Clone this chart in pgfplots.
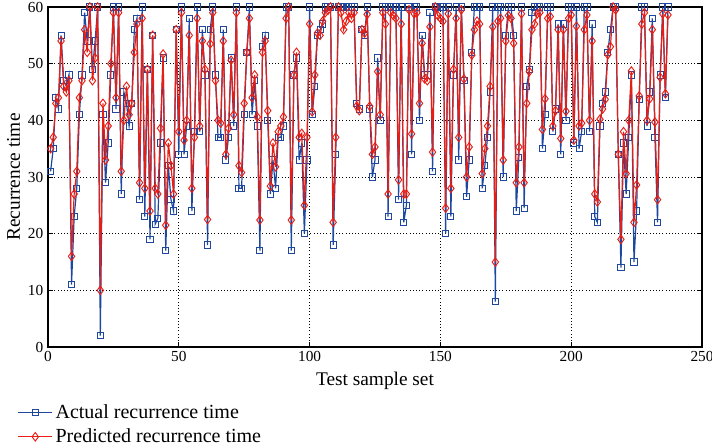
\documentclass[border=0pt]{standalone}
\usepackage{fontspec}
\setmainfont{Liberation Serif}
\usepackage{pgfplots}
\usepackage{pgfplotstable}
\pgfplotsset{compat=1.18}
\definecolor{actblue}{RGB}{30,72,160}
\definecolor{predred}{RGB}{232,30,20}
\pgfplotstableread{
a p
31 35
35 37
44 43
42 44
55 54
47 46
46 45
48 47
11 16
23 27
28 31
41 44
48 47
59 56
54 52
60 60
49 47
54 51
60 60
2 10
41 43
29 33
36 39
48 50
60 59
42 44
60 59
27 31
45 40
43 46
39 41
43 43
56 52
58 57
26 29
60 58
23 28
49 49
19 24
55 55
21.7 28
22.7 27
36 38.6
51 51.7
17 21.5
32 36
26 32
24 27
56 56
34 38
60 59
34 36.5
39 40
58 55
24 28
38 37
60 58
38 39
56 54
48 49
18 22.5
56 53.5
60 59
48 47
37 40
37 39.5
56 54
33 34
37 38.6
51 50.6
39 41
60 59
28 32
28 30.8
41 43
52 52
60 58
41 44
47 48
39 40.6
17 22.4
53 52
55 54
40 41.7
27 28.4
33 36
28 31.8
37 38
37 39
39 40.6
60 58
60 60
17 22.4
48 48
51 52
33 37
36 37.7
20 25
33 37
60 57
41 41.5
46 48
55 55.4
56 55
57 57.5
60 59
60 59.4
60 60
18 22
34 37
60 60
60 59
60 56
60 57.5
60 59
60 58
60 59
43 42.5
42 41.7
56 56
55 55.4
60 58.7
42 42.5
30 34
33 35.3
51 48.6
40 41
60 59
60 57
23 27
60 59
60 58.5
60 58
26 29.5
60 57
22 27
25 27
60 59.5
34 37.6
60 58.8
60 59
40 43
55 53.6
48 47.3
48 47
59 56.5
31 34.4
60 60
60 58.5
60 58
60 57.5
20 24.5
60 58.8
23 28
48 49
60 58
33 37
60 59.5
47 47.3
26.5 30
33 35.3
52 51.5
60 56
60 57.5
60 57
28 30.6
32 35
37 39
45 46
60 56.5
8 15
60 57.5
60 58
30 33
55 54
60 58.5
60 58
55 53.6
24 29
33.5 35.3
60 58.8
24.5 29
46 43
49 48.6
59 56
60 57
60 58.8
60 59
35 38.4
41 43.8
60 58
60 58.3
38 39
42 41.7
57 56
34 36.8
57 56
40 41.6
60 58
60 58.6
36 36.5
60 56.6
35 39
38 39.5
60 56
60 58.6
38 40
57 54
23 27
22 25.6
39 40.2
43 42
45 43.7
52 51.6
56 53
60 60
60 59.5
34 34
14 19
36 38
27 30.6
37 40
48 48.7
15 22
24 28.6
43.7 44.3
60 57
60 59
39 40
45 43.8
58 56
37 39.7
22 26
48 47.6
60 58.8
44 44.7
60 58.6
}\datatable
\begin{document}
\begin{tikzpicture}
\useasboundingbox (0,0) rectangle (534pt,334.5pt);
\begin{axis}[
  at={(36pt,74.25pt)}, anchor=south west,
  scale only axis, width=490.5pt, height=255pt,
  xmin=0, xmax=250, ymin=0, ymax=60,
  xtick={0,50,...,250}, ytick={0,10,...,60},
  tick align=inside,
  major tick length=4pt,
  grid=major,
  major grid style={black, dotted, line width=0.6pt},
  axis line style={black, line width=0.8pt},
  tick style={black, line width=0.6pt},
  /pgf/number format/assume math mode=true,
  ticklabel style={font=\fontsize{11.5}{13}\selectfont},
  label style={font=\fontsize{14.5}{17}\selectfont},
  xlabel={Test sample set},
  ylabel={Recurrence time},
  xlabel style={yshift=-1pt},
  ylabel style={yshift=-1pt},
  clip mode=individual,
  legend cell align=left,
  legend style={draw=none, fill=none, at={(-0.053,-0.152)}, anchor=north west,
    font=\fontsize{15}{17}\selectfont, row sep=2.5pt},
  legend image code/.code={\draw[mark repeat=2,mark phase=2,#1] plot coordinates {(0cm,0cm) (0.45cm,0cm) (0.9cm,0cm)};},
]
\addplot[actblue, line width=0.9pt, mark=square, mark size=2.3pt, mark options={solid, fill=none, line width=0.7pt}]
  table[x expr=\coordindex+1, y=a] {\datatable};
\addlegendentry{Actual recurrence time}
\addplot[predred, line width=0.9pt, mark=diamond, mark size=3.2pt, mark options={solid, fill=none, line width=0.7pt}]
  table[x expr=\coordindex+1, y=p] {\datatable};
\addlegendentry{Predicted recurrence time}
\end{axis}
\end{tikzpicture}
\end{document}
